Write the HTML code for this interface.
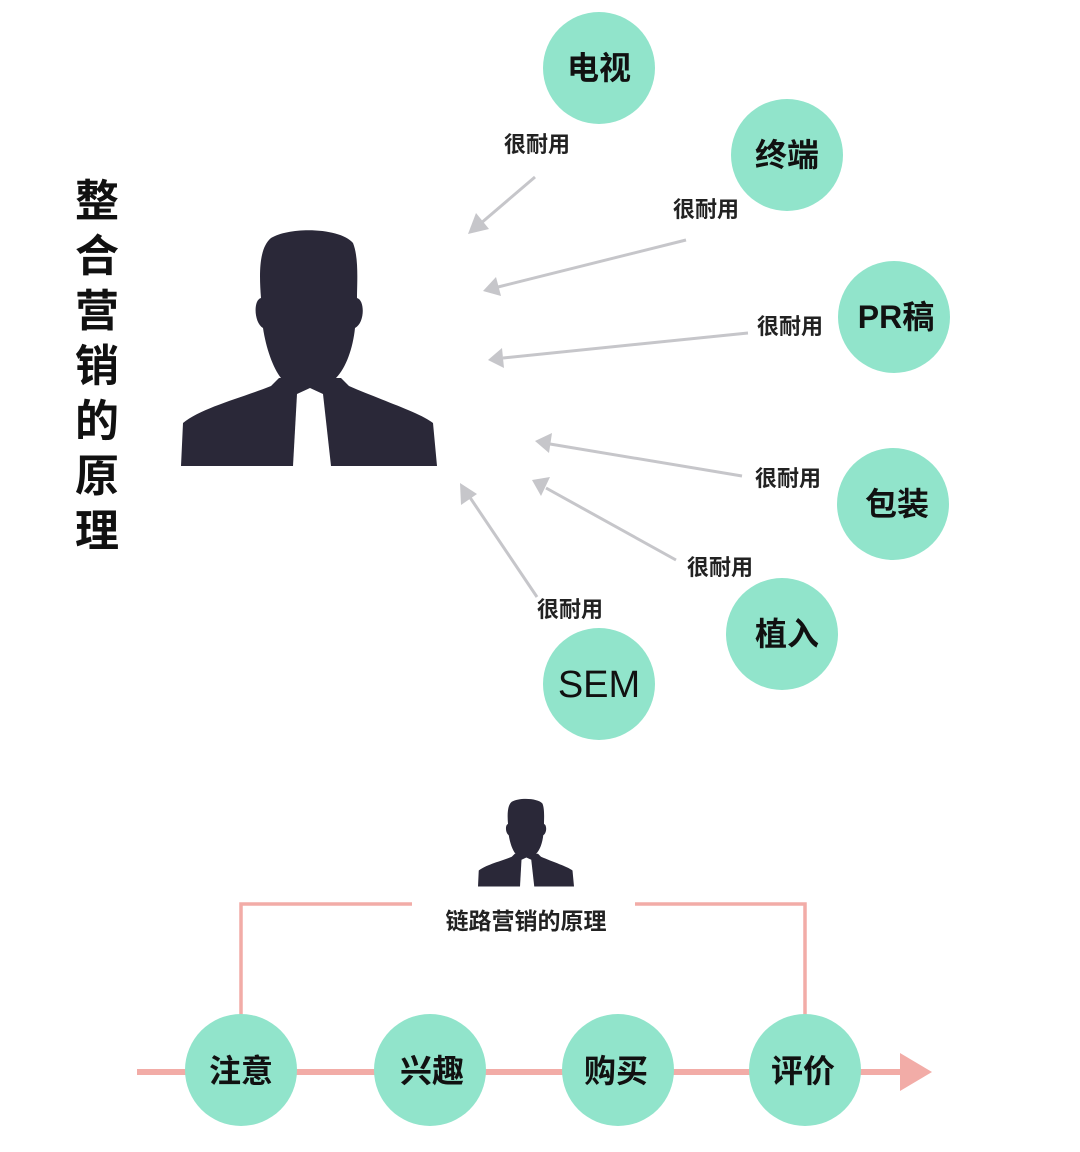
<!DOCTYPE html>
<html><head><meta charset="utf-8"><style>
html,body{margin:0;padding:0;background:#fff;}
svg text{font-family:"Liberation Sans","Noto Sans CJK SC",sans-serif;}
</style></head><body>
<svg width="1080" height="1147" viewBox="0 0 1080 1147" xmlns="http://www.w3.org/2000/svg">
<defs>
<g id="man">
<path fill="#2a2838" d="M90,10 C110,-2 160,0 172,15 C178,30 176,55 176,70 C184,72 184,95 174,100 C172,120 165,140 155,150 L160,150 L168,158 C200,172 240,185 252,195 L256,238 L0,238 L2,195 C20,180 60,170 90,158 L98,150 L100,150 C92,140 85,120 82,100 C73,95 72,72 80,70 C78,45 78,20 90,10 Z"/>
<path fill="#fff" d="M116,166 L129,160 L142,166 L150,238 L112,238 Z"/>
</g>
</defs>
<g font-weight="bold" font-size="44" text-anchor="middle" fill="#111">
<text x="97" y="216">整</text><text x="97" y="271">合</text><text x="97" y="326">营</text><text x="97" y="381">销</text><text x="97" y="436">的</text><text x="97" y="491">原</text><text x="97" y="546">理</text>
</g>
<use href="#man" transform="translate(181,228)"/>
<g stroke="#c6c6ca" stroke-width="3" fill="none">
<line x1="535" y1="177" x2="480" y2="224"/>
<line x1="686" y1="240" x2="498" y2="287"/>
<line x1="748" y1="333" x2="503" y2="358"/>
<line x1="742" y1="476" x2="550" y2="444"/>
<line x1="676" y1="560" x2="546" y2="488"/>
<line x1="537" y1="597" x2="469" y2="496"/>
</g>
<g fill="#c6c6ca">
<polygon points="468,234 476,213 489,229"/>
<polygon points="483,291 496,277 501,296"/>
<polygon points="488,360 502,348 504,368"/>
<polygon points="535,441 552,433 549,453"/>
<polygon points="532,480 550,477 541,496"/>
<polygon points="460,483 477,494 461,505"/>
</g>
<g font-size="22" font-weight="bold" text-anchor="middle" fill="#222">
<text x="537" y="152">很耐用</text><text x="706" y="217">很耐用</text><text x="790" y="334">很耐用</text>
<text x="788" y="486">很耐用</text><text x="720" y="575">很耐用</text><text x="570" y="617">很耐用</text>
</g>
<g fill="#91e4cb">
<circle cx="599" cy="68" r="56"/><circle cx="787" cy="155" r="56"/><circle cx="894" cy="317" r="56"/>
<circle cx="893" cy="504" r="56"/><circle cx="782" cy="634" r="56"/><circle cx="599" cy="684" r="56"/>
</g>
<g font-size="32" font-weight="bold" text-anchor="middle" fill="#111">
<text x="599" y="79">电视</text><text x="787" y="166">终端</text><text x="896" y="328">PR稿</text>
<text x="897" y="515">包装</text><text x="787" y="645">植入</text><text x="599" y="697" font-weight="normal" font-size="38">SEM</text>
</g>
<use href="#man" transform="translate(478,798) scale(0.375 0.372)"/>
<g stroke="#f2aca7" stroke-width="3.5" fill="none">
<polyline points="241,1015 241,904 412,904"/>
<polyline points="635,904 805,904 805,1015"/>
</g>
<line x1="137" y1="1072" x2="905" y2="1072" stroke="#f2aca7" stroke-width="6"/>
<polygon points="900,1053 932,1072 900,1091" fill="#f2aca7"/>
<text x="526" y="929" font-size="23" font-weight="bold" text-anchor="middle" fill="#222">链路营销的原理</text>
<g fill="#91e4cb">
<ellipse cx="241" cy="1070" rx="56" ry="56"/><ellipse cx="430" cy="1070" rx="56" ry="56"/>
<ellipse cx="618" cy="1070" rx="56" ry="56"/><ellipse cx="805" cy="1070" rx="56" ry="56"/>
</g>
<g font-size="32" font-weight="bold" text-anchor="middle" fill="#111">
<text x="241" y="1082">注意</text><text x="432" y="1082">兴趣</text><text x="616" y="1082">购买</text><text x="803" y="1082">评价</text>
</g>
</svg>
</body></html>
